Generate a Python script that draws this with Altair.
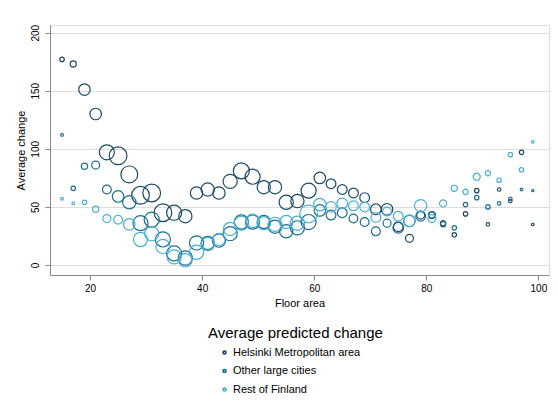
import altair as alt
import pandas as pd

# Floor area groups (m²)
floor_area = [15, 17, 19, 21, 23, 25, 27, 29, 31, 33, 35, 37, 39, 41, 43, 45, 47, 49, 51, 53, 55,
              57, 59, 61, 63, 65, 67, 69, 71, 73, 75, 77, 79, 81, 83, 85, 87, 89, 91, 93, 95, 97, 99]

# Average predicted change per region
helsinki = [177, 173, 151, 130, 97, 94, 78, 60, 62, 45, 45, 42, 62, 65, 62, 72, 81, 76, 67, 67, 54,
            55, 64, 75, 70, 65, 62, 58, 48, 48, 33, 23, 43, 43, 36, 26, 44, 64, 35, 65, 55, 97, 35]
other_cities = [112, 66, 85, 86, 65, 59, 54, 36, 39, 22, 10, 6, 19, 19, 21, 27, 37, 37, 37, 33, 29,
                32, 37, 47, 43, 45, 40, 37, 29, 36, 32, 38, 42, 43, 35, 32, 52, 58, 50, 53, 57, 65, 64]
rest_finland = [57, 53, 54, 48, 40, 39, 35, 22, 27, 16, 7, 4, 11, 18, 22, 31, 36, 38, 36, 35, 37,
                36, 44, 52, 50, 53, 51, 50, 41, 46, 42, 38, 51, 40, 53, 66, 63, 76, 79, 73, 95, 82, 106]

# Number of observations behind each average (marker weight)
w_helsinki = [25, 49, 169, 169, 289, 400, 361, 400, 400, 400, 289, 225, 196, 225, 196, 256, 324, 289, 225, 225, 256,
              225, 289, 169, 121, 121, 121, 121, 144, 169, 121, 81, 81, 49, 36, 25, 25, 25, 16, 16, 16, 25, 9]
w_other = [9, 25, 49, 81, 100, 169, 225, 289, 289, 289, 289, 256, 256, 225, 225, 256, 256, 256, 225, 225, 225,
           256, 289, 169, 121, 121, 100, 100, 100, 81, 144, 169, 121, 64, 36, 25, 25, 25, 25, 16, 16, 9, 6]
w_rest = [9, 9, 25, 49, 81, 100, 169, 256, 256, 256, 256, 225, 256, 225, 196, 225, 256, 225, 225, 256, 225,
          256, 400, 196, 144, 144, 121, 121, 121, 100, 121, 169, 196, 81, 64, 49, 36, 64, 36, 25, 25, 25, 9]

regions = ["Helsinki Metropolitan area", "Other large cities", "Rest of Finland"]
colors = ["#1b4a68", "#1f6d92", "#47afd7"]

frames = []
for name, vals, wts in [(regions[0], helsinki, w_helsinki),
                        (regions[1], other_cities, w_other),
                        (regions[2], rest_finland, w_rest)]:
    frames.append(pd.DataFrame({"floor_area": floor_area, "change": vals,
                                "weight": wts, "region": name}))
df = pd.concat(frames, ignore_index=True)

font = "Liberation Sans"

chart = alt.Chart(df).mark_point(
    shape="circle", filled=False, strokeWidth=1.2, opacity=1
).encode(
    x=alt.X("floor_area:Q",
            scale=alt.Scale(domain=[12.85, 101.9], nice=False, zero=False),
            axis=alt.Axis(title="Floor area", values=[20, 40, 60, 80, 100],
                          grid=False, tickSize=5, titlePadding=4, labelPadding=3,
                          titleFontWeight="normal")),
    y=alt.Y("change:Q",
            scale=alt.Scale(domain=[-8.6, 206.6], nice=False, zero=False),
            axis=alt.Axis(title="Average change", values=[0, 50, 100, 150, 200],
                          grid=True, tickSize=5, labelAngle=-90,
                          labelAlign="center", labelBaseline="bottom",
                          labelPadding=5, titlePadding=4, titleFontWeight="normal")),
    size=alt.Size("weight:Q", scale=alt.Scale(domain=[0, 400], range=[0, 314]), legend=None),
    color=alt.Color("region:N",
                    scale=alt.Scale(domain=regions, range=colors),
                    legend=alt.Legend(title="Average predicted change", orient="none",
                                      legendX=158, legendY=301, direction="vertical",
                                      symbolType="circle", symbolSize=8,
                                      symbolStrokeWidth=1.8, symbolOffset=11,
                                      titleFontSize=15, titleFontWeight="normal",
                                      titleFont=font, titleColor="#000000",
                                      labelFontSize=11, labelFont=font, labelColor="#000000",
                                      rowPadding=6.5, titlePadding=6, labelOffset=3,
                                      padding=0)),
    order=alt.Order("region:N")
).properties(
    width=499, height=250,
    padding={"left": 50, "top": 25, "right": 9, "bottom": 135},
    autosize=alt.AutoSizeParams(type="none")
).configure_view(
    stroke=None
).configure_axis(
    domainColor="#000000", tickColor="#000000", labelColor="#000000",
    titleColor="#000000", labelFont=font, titleFont=font,
    labelFontSize=13, titleFontSize=13, titleFontWeight="normal",
    gridColor="#e6eff1", gridWidth=1, domainWidth=1, tickWidth=1
).configure(background="white")

chart.save("out.html", embed_options={"renderer": "svg", "actions": False})
